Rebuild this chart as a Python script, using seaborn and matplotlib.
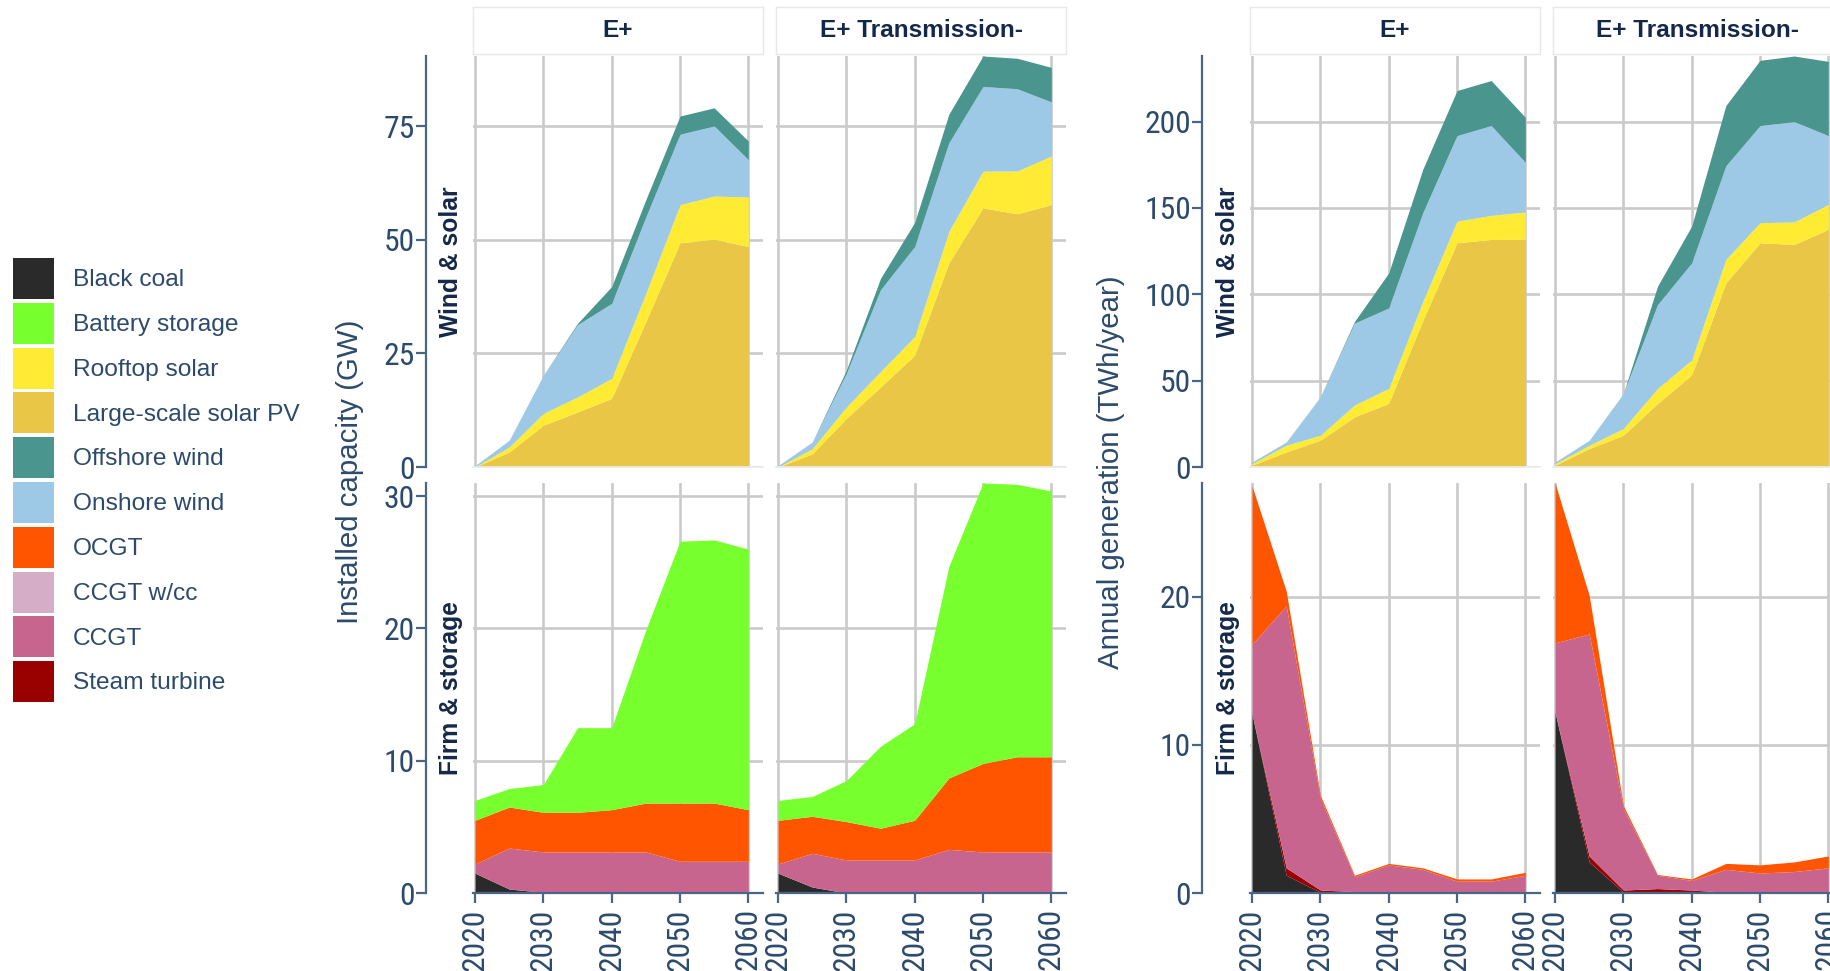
import numpy as np
import pandas as pd
import matplotlib
matplotlib.use("Agg")
import matplotlib.pyplot as plt
from matplotlib.patches import Patch
from matplotlib import font_manager
import seaborn as sns

# ---------------- data ----------------
years = [2020, 2025, 2030, 2035, 2040, 2045, 2050, 2055, 2060]
scenarios = ["E+", "E+ Transmission-"]
row_names = ["Wind & solar", "Firm & storage"]

legend_techs = ["Black coal", "Battery storage", "Rooftop solar", "Large-scale solar PV",
                "Offshore wind", "Onshore wind", "OCGT", "CCGT w/cc", "CCGT", "Steam turbine"]
legend_colors = ["#2a2a2a", "#78ff2e", "#ffeb33", "#e9c646", "#4a968e",
                 "#9dc8e6", "#ff5500", "#d6adc6", "#c8658f", "#990000"]

wind_stack = ["Large-scale solar PV", "Rooftop solar", "Onshore wind", "Offshore wind"]
firm_stack = ["Black coal", "Steam turbine", "CCGT", "CCGT w/cc", "OCGT", "Battery storage"]

# Installed capacity (GW) - E+
cap_ep_large = [0, 3.3, 9.2, 12.1, 15.1, 32.0, 49.3, 50.1, 48.5]
cap_ep_roof = [0, 1.1, 2.6, 3.3, 4.4, 6.2, 8.4, 9.5, 10.9]
cap_ep_onshore = [0.3, 1.5, 8.4, 15.9, 16.5, 16.8, 15.5, 15.4, 8.2]
cap_ep_offshore = [0, 0, 0, 0.3, 3.7, 3.8, 4.0, 4.0, 4.1]
cap_ep_coal = [1.5, 0.3, 0.05, 0, 0, 0, 0, 0, 0]
cap_ep_steam = [0, 0, 0, 0, 0, 0, 0, 0, 0]
cap_ep_ccgt = [0.7, 3.1, 3.05, 3.1, 3.1, 3.1, 2.4, 2.4, 2.4]
cap_ep_ccgtcc = [0, 0, 0, 0, 0, 0, 0, 0, 0]
cap_ep_ocgt = [3.3, 3.1, 3.0, 3.0, 3.2, 3.7, 4.4, 4.4, 3.9]
cap_ep_battery = [1.5, 1.4, 2.1, 6.4, 6.2, 13.1, 19.8, 19.9, 19.7]

# Installed capacity (GW) - E+ Transmission-
cap_tr_large = [0, 2.9, 10.7, 17.6, 24.6, 44.9, 57.0, 55.7, 57.7]
cap_tr_roof = [0, 1.1, 2.5, 3.4, 4.1, 6.9, 8.1, 9.4, 10.7]
cap_tr_onshore = [0.3, 1.5, 7.4, 18.0, 19.8, 19.5, 18.6, 18.1, 11.9]
cap_tr_offshore = [0, 0, 0.7, 2.5, 5.3, 6.3, 6.7, 6.7, 7.6]
cap_tr_coal = [1.5, 0.45, 0, 0, 0, 0, 0, 0, 0]
cap_tr_steam = [0, 0, 0, 0, 0, 0, 0, 0, 0]
cap_tr_ccgt = [0.7, 2.55, 2.5, 2.5, 2.5, 3.3, 3.1, 3.1, 3.1]
cap_tr_ccgtcc = [0, 0, 0, 0, 0, 0, 0, 0, 0]
cap_tr_ocgt = [3.3, 2.8, 2.9, 2.4, 3.0, 5.4, 6.7, 7.2, 7.2]
cap_tr_battery = [1.5, 1.5, 3.1, 6.2, 7.3, 16.0, 21.2, 20.6, 20.1]

# Annual generation (TWh/year) - E+
gen_ep_large = [1.0, 8.7, 15.5, 29.1, 36.8, 85.0, 129.8, 131.8, 131.8]
gen_ep_roof = [0.9, 3.9, 2.9, 6.8, 8.7, 10.9, 12.6, 13.9, 15.9]
gen_ep_onshore = [1.0, 1.9, 22.3, 47.4, 46.6, 51.4, 49.5, 52.0, 28.7]
gen_ep_offshore = [0, 0, 0, 1.0, 20.3, 25.2, 26.1, 26.1, 26.1]
gen_ep_coal = [12.1, 1.2, 0.05, 0, 0, 0, 0, 0, 0]
gen_ep_steam = [0, 0.5, 0.15, 0.1, 0.05, 0, 0, 0, 0]
gen_ep_ccgt = [4.7, 17.7, 6.2, 1.0, 1.85, 1.6, 0.8, 0.8, 1.2]
gen_ep_ccgtcc = [0, 0, 0, 0, 0, 0, 0, 0, 0]
gen_ep_ocgt = [10.7, 1.0, 0.2, 0.1, 0.1, 0.1, 0.15, 0.15, 0.2]
gen_ep_battery = [0, 0, 0, 0, 0, 0, 0, 0, 0]

# Annual generation (TWh/year) - E+ Transmission-
gen_tr_large = [1.0, 10.7, 18.4, 36.8, 53.3, 106.6, 129.8, 128.9, 137.6]
gen_tr_roof = [0.9, 1.9, 3.9, 8.7, 8.7, 13.6, 11.7, 13.0, 14.5]
gen_tr_onshore = [1.0, 2.9, 20.3, 48.5, 56.2, 54.2, 56.2, 58.1, 39.8]
gen_tr_offshore = [0, 0, 0, 10.7, 21.3, 34.9, 37.8, 38.0, 43.0]
gen_tr_coal = [12.2, 2.1, 0.05, 0, 0, 0, 0, 0, 0]
gen_tr_steam = [0, 0.4, 0.15, 0.3, 0.2, 0.05, 0, 0, 0]
gen_tr_ccgt = [4.7, 15.0, 5.5, 0.9, 0.65, 1.55, 1.35, 1.45, 1.7]
gen_tr_ccgtcc = [0, 0, 0, 0, 0, 0, 0, 0, 0]
gen_tr_ocgt = [10.8, 2.6, 0.2, 0.05, 0.1, 0.4, 0.55, 0.65, 0.8]
gen_tr_battery = [0, 0, 0, 0, 0, 0, 0, 0, 0]

cap_yticks_top = [0, 25, 50, 75]
cap_yticks_bot = [0, 10, 20, 30]
gen_yticks_top = [0, 50, 100, 150, 200]
gen_yticks_bot = [0, 10, 20]
x_ticks = [2020, 2030, 2040, 2050, 2060]

series = [
    ("cap", "E+", "Large-scale solar PV", cap_ep_large), ("cap", "E+", "Rooftop solar", cap_ep_roof),
    ("cap", "E+", "Onshore wind", cap_ep_onshore), ("cap", "E+", "Offshore wind", cap_ep_offshore),
    ("cap", "E+", "Black coal", cap_ep_coal), ("cap", "E+", "Steam turbine", cap_ep_steam),
    ("cap", "E+", "CCGT", cap_ep_ccgt), ("cap", "E+", "CCGT w/cc", cap_ep_ccgtcc),
    ("cap", "E+", "OCGT", cap_ep_ocgt), ("cap", "E+", "Battery storage", cap_ep_battery),
    ("cap", "E+ Transmission-", "Large-scale solar PV", cap_tr_large), ("cap", "E+ Transmission-", "Rooftop solar", cap_tr_roof),
    ("cap", "E+ Transmission-", "Onshore wind", cap_tr_onshore), ("cap", "E+ Transmission-", "Offshore wind", cap_tr_offshore),
    ("cap", "E+ Transmission-", "Black coal", cap_tr_coal), ("cap", "E+ Transmission-", "Steam turbine", cap_tr_steam),
    ("cap", "E+ Transmission-", "CCGT", cap_tr_ccgt), ("cap", "E+ Transmission-", "CCGT w/cc", cap_tr_ccgtcc),
    ("cap", "E+ Transmission-", "OCGT", cap_tr_ocgt), ("cap", "E+ Transmission-", "Battery storage", cap_tr_battery),
    ("gen", "E+", "Large-scale solar PV", gen_ep_large), ("gen", "E+", "Rooftop solar", gen_ep_roof),
    ("gen", "E+", "Onshore wind", gen_ep_onshore), ("gen", "E+", "Offshore wind", gen_ep_offshore),
    ("gen", "E+", "Black coal", gen_ep_coal), ("gen", "E+", "Steam turbine", gen_ep_steam),
    ("gen", "E+", "CCGT", gen_ep_ccgt), ("gen", "E+", "CCGT w/cc", gen_ep_ccgtcc),
    ("gen", "E+", "OCGT", gen_ep_ocgt), ("gen", "E+", "Battery storage", gen_ep_battery),
    ("gen", "E+ Transmission-", "Large-scale solar PV", gen_tr_large), ("gen", "E+ Transmission-", "Rooftop solar", gen_tr_roof),
    ("gen", "E+ Transmission-", "Onshore wind", gen_tr_onshore), ("gen", "E+ Transmission-", "Offshore wind", gen_tr_offshore),
    ("gen", "E+ Transmission-", "Black coal", gen_tr_coal), ("gen", "E+ Transmission-", "Steam turbine", gen_tr_steam),
    ("gen", "E+ Transmission-", "CCGT", gen_tr_ccgt), ("gen", "E+ Transmission-", "CCGT w/cc", gen_tr_ccgtcc),
    ("gen", "E+ Transmission-", "OCGT", gen_tr_ocgt), ("gen", "E+ Transmission-", "Battery storage", gen_tr_battery),
]
records = []
for metric, scen, tech, vals in series:
    for yr, v in zip(years, vals):
        records.append({"metric": metric, "scenario": scen, "tech": tech, "year": yr, "value": v})
df = pd.DataFrame(records)
palette = dict(zip(legend_techs, legend_colors))

# ---------------- style ----------------
sns.set_theme(style="whitegrid")
REG = ["Liberation Sans", "DejaVu Sans"]
plt.rcParams["font.family"] = REG

names = {f.name for f in font_manager.fontManager.ttflist}
NARROW = None
for cand in ["Roboto Condensed", "Liberation Sans Narrow", "Open Sans Condensed", "Archivo Narrow"]:
    if cand in names:
        NARROW = [cand, "Liberation Sans", "DejaVu Sans"]
        break
TICKFONT = NARROW if NARROW else REG

NAVY = "#2c4a6c"
AXIS = "#4a6686"
STRIP_TXT = "#14284a"
GRID = "#cacaca"

W, H = 1831, 971
fig = plt.figure(figsize=(W / 100, H / 100), dpi=100)
fig.patch.set_facecolor("white")
renderer = fig.canvas.get_renderer()

def measure_size(s, target, family, weight="normal"):
    t = fig.text(0, 0, s, fontsize=20, family=family, fontweight=weight)
    bb = t.get_window_extent(renderer)
    size = 20 * target / bb.width
    t.remove()
    return size

tick_size = measure_size("200", 47, TICKFONT)
strip_size = measure_size("E+ Transmission-", 202, REG, "bold")
row_size = measure_size("Wind & solar", 150, REG, "bold")
title_size = measure_size("Installed capacity (GW)", 303, REG)
legend_size = measure_size("Large-scale solar PV", 227, REG)

def px_axes(x0, y0, x1, y1):
    return fig.add_axes([x0 / W, 1 - y1 / H, (x1 - x0) / W, (y1 - y0) / H])

PW = 290
col_x = {"cap": [473, 776], "gen": [1250, 1553]}
row_y = [(56, 467), (483, 893)]
stacks = [wind_stack, firm_stack]
yticks = {"cap": [cap_yticks_top, cap_yticks_bot], "gen": [gen_yticks_top, gen_yticks_bot]}
outward = {"cap": 34.0, "gen": 34.5}

for metric in ["cap", "gen"]:
    for r, stack in enumerate(stacks):
        sub_m = df[(df.metric == metric) & (df.tech.isin(stack))]
        tot = sub_m.groupby(["scenario", "year"])["value"].sum().max()
        for c, scen in enumerate(scenarios):
            x0 = col_x[metric][c]
            y0, y1 = row_y[r]
            ax = px_axes(x0, y0, x0 + PW, y1)
            sub = sub_m[sub_m.scenario == scen]
            piv = sub.pivot(index="year", columns="tech", values="value")[stack]
            cum = piv.cumsum(axis=1)
            base = np.zeros(len(piv))
            for tech in stack:
                top = cum[tech].values
                ax.fill_between(piv.index.values, base, top, color=palette[tech], lw=0)
                base = top
            ax.set_xlim(2019.7, 2062.15)
            ax.set_ylim(0, tot)
            ax.set_xticks(x_ticks)
            ax.set_yticks(yticks[metric][r])
            ax.set_facecolor("white")
            ax.grid(True, color=GRID, lw=1.9)
            ax.set_axisbelow(True)
            for s in ["top", "right"]:
                ax.spines[s].set_visible(False)
            if c == 0:
                ax.spines["left"].set_visible(True)
                ax.spines["left"].set_color(AXIS)
                ax.spines["left"].set_linewidth(1.6)
                ax.spines["left"].set_position(("outward", outward[metric]))
                ax.tick_params(axis="y", left=True, length=7, width=1.6, color=AXIS,
                               labelsize=tick_size, labelcolor=NAVY, pad=1)
            else:
                ax.spines["left"].set_visible(False)
                ax.tick_params(axis="y", left=False, labelleft=False)
            if r == 1:
                ax.spines["bottom"].set_visible(True)
                ax.spines["bottom"].set_color(AXIS)
                ax.spines["bottom"].set_linewidth(1.6)
                ax.tick_params(axis="x", bottom=True, length=7, width=1.6, color=AXIS,
                               labelsize=tick_size, labelcolor=NAVY, pad=4, labelrotation=90)
            else:
                ax.spines["bottom"].set_color("#ececec")
                ax.tick_params(axis="x", bottom=False, labelbottom=False)
            for lab in ax.get_xticklabels() + ax.get_yticklabels():
                lab.set_family(TICKFONT)
            ax.set_xlabel("")
            ax.set_ylabel("")
            if r == 0:
                sax = px_axes(x0, 7, x0 + PW, 54)
                sax.set_facecolor("white")
                sax.set_xticks([])
                sax.set_yticks([])
                sax.grid(False)
                for s in sax.spines.values():
                    s.set_color("#e8e8e8")
                    s.set_linewidth(1.0)
                sax.text(0.5, 0.5, scen, ha="center", va="center", fontsize=strip_size,
                         fontweight="bold", color=STRIP_TXT, transform=sax.transAxes)

for xr in [451, 1228]:
    fig.text(xr / W, 1 - 261.5 / H, "Wind & solar", rotation=90, ha="center", va="center",
             fontsize=row_size, fontweight="bold", color=STRIP_TXT)
    fig.text(xr / W, 1 - 688 / H, "Firm & storage", rotation=90, ha="center", va="center",
             fontsize=row_size, fontweight="bold", color=STRIP_TXT)

fig.text(350 / W, 1 - 472 / H, "Installed capacity (GW)", rotation=90, ha="center", va="center",
         fontsize=title_size, color=NAVY)
fig.text(1111 / W, 1 - 472 / H, "Annual generation (TWh/year)", rotation=90, ha="center",
         va="center", fontsize=title_size, color=NAVY)

handles = [Patch(facecolor=col, edgecolor="none") for col in legend_colors]
fs = legend_size
fspx = fs / 0.72
hh_target = 41 / fspx
hh = (hh_target - 0.245) / 0.65
fig.legend(handles, legend_techs, loc="upper left", bbox_to_anchor=(12.7 / W, 1 - 258 / H),
           frameon=False, fontsize=fs, labelcolor=NAVY, handlelength=41.3 / fspx,
           handleheight=hh, labelspacing=3.8 / fspx, handletextpad=18.7 / fspx,
           borderpad=0, borderaxespad=0)

fig.savefig("out.png", dpi=100, facecolor="white")
